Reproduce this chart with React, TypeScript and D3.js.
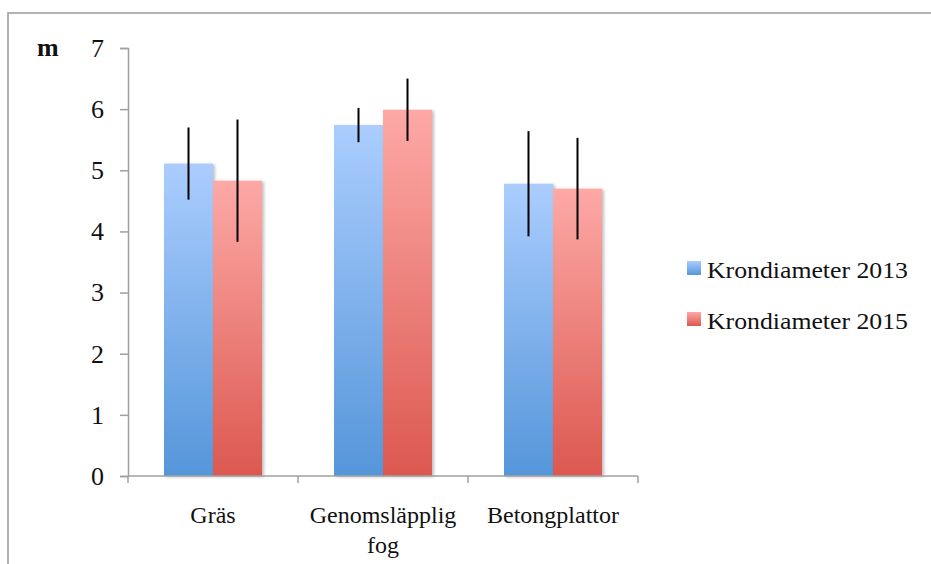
import { useRef, useEffect } from 'react';
import * as d3 from 'd3';

const categories = [['Gräs'], ['Genomsläpplig', 'fog'], ['Betongplattor']];
const seriesNames = ['Krondiameter 2013', 'Krondiameter 2015'];
const values2013 = [5.11, 5.74, 4.78];
const values2015 = [4.83, 5.99, 4.70];
const err2013 = [0.59, 0.28, 0.86];
const err2015 = [1.0, 0.51, 0.83];
const yTicks = [0, 1, 2, 3, 4, 5, 6, 7];

const FONT = 'Liberation Serif, Times New Roman, serif';

const App = () => {
  const ref = useRef<SVGSVGElement>(null);

  useEffect(() => {
    const svg = d3.select(ref.current);
    svg.selectAll('*').remove();
    const width = 931;
    const height = 564;
    const margin = { top: 48, left: 128 };
    const innerW = 510;
    const innerH = 428;

    const defs = svg.append('defs');
    const grads = [
      { id: 'gBlue', top: '#abcdfe', bottom: '#5596da' },
      { id: 'gRed', top: '#fda9a6', bottom: '#dc5850' },
    ];
    grads.forEach(gd => {
      const lg = defs.append('linearGradient').attr('id', gd.id)
        .attr('x1', 0).attr('y1', 0).attr('x2', 0).attr('y2', 1);
      lg.append('stop').attr('offset', '0%').attr('stop-color', gd.top);
      lg.append('stop').attr('offset', '100%').attr('stop-color', gd.bottom);
    });
    defs.append('filter').attr('id', 'shadow')
      .attr('x', '-10%').attr('y', '-10%').attr('width', '130%').attr('height', '130%')
      .append('feDropShadow')
      .attr('dx', 2).attr('dy', 1).attr('stdDeviation', 1.5)
      .attr('flood-color', '#000').attr('flood-opacity', 0.25);

    svg.append('rect')
      .attr('x', 8).attr('y', 13).attr('width', width).attr('height', height)
      .attr('fill', 'none').attr('stroke', '#999').attr('stroke-width', 1.5);

    const g = svg.append('g').attr('transform', `translate(${margin.left},${margin.top})`);

    const x = d3.scaleBand<number>()
      .domain(categories.map((_, i) => i))
      .range([0, innerW])
      .paddingInner(0)
      .paddingOuter(0);
    const xs = d3.scaleBand<number>()
      .domain([0, 1])
      .range([36, x.bandwidth() - 36]);
    const y = d3.scaleLinear().domain([0, 7]).range([innerH, 0]);

    const series = [
      { vals: values2013, errs: err2013, fill: 'url(#gBlue)' },
      { vals: values2015, errs: err2015, fill: 'url(#gRed)' },
    ];

    // bars
    series.forEach((s, si) => {
      g.append('g').selectAll('rect')
        .data(s.vals)
        .enter().append('rect')
        .attr('x', (_, i) => x(i)! + xs(si)!)
        .attr('y', d => y(d))
        .attr('width', xs.bandwidth())
        .attr('height', d => innerH - y(d))
        .attr('fill', s.fill)
        .attr('filter', 'url(#shadow)');
    });

    // error bars
    series.forEach((s, si) => {
      g.append('g').selectAll('line')
        .data(s.vals)
        .enter().append('line')
        .attr('x1', (_, i) => x(i)! + xs(si)! + xs.bandwidth() / 2)
        .attr('x2', (_, i) => x(i)! + xs(si)! + xs.bandwidth() / 2)
        .attr('y1', (d, i) => y(d + s.errs[i]))
        .attr('y2', (d, i) => y(d - s.errs[i]))
        .attr('stroke', '#000').attr('stroke-width', 2);
    });

    // y axis
    const yAxis = g.append('g')
      .call(d3.axisLeft(y).tickValues(yTicks).tickSize(8).tickPadding(16).tickFormat(d3.format('d')));
    yAxis.select('.domain').attr('stroke', '#a0a0a0').attr('stroke-width', 1.5);
    yAxis.selectAll('.tick line').attr('stroke', '#a0a0a0').attr('stroke-width', 1.5);
    yAxis.selectAll('.tick text')
      .attr('font-family', FONT).attr('font-size', 26).attr('fill', '#111');

    // x axis
    const xAxis = g.append('g').attr('transform', `translate(0,${innerH})`);
    xAxis.append('line').attr('x1', 0).attr('x2', innerW).attr('y1', 0).attr('y2', 0)
      .attr('stroke', '#a0a0a0').attr('stroke-width', 1.5);
    xAxis.selectAll('.xt')
      .data(d3.range(categories.length + 1))
      .enter().append('line')
      .attr('x1', i => i * x.step()).attr('x2', i => i * x.step())
      .attr('y1', 0).attr('y2', 7)
      .attr('stroke', '#a0a0a0').attr('stroke-width', 1.5);
    const labels = xAxis.selectAll('.xl')
      .data(categories)
      .enter().append('text')
      .attr('x', (_, i) => x(i)! + x.bandwidth() / 2)
      .attr('y', 47)
      .attr('text-anchor', 'middle')
      .attr('font-family', FONT).attr('font-size', 24).attr('fill', '#111');
    labels.selectAll('tspan')
      .data(d => d)
      .enter().append('tspan')
      .attr('x', function () { return (this.parentNode as SVGTextElement).getAttribute('x'); })
      .attr('dy', (_, j) => (j === 0 ? 0 : 30))
      .text(d => d);

    // unit label
    svg.append('text')
      .attr('x', 37).attr('y', 56)
      .attr('font-family', FONT).attr('font-size', 26).attr('font-weight', 'bold')
      .attr('fill', '#111').text('m');

    // legend
    const legend = svg.append('g').attr('transform', 'translate(687,261)');
    const legendFills = ['url(#gBlue)', 'url(#gRed)'];
    seriesNames.forEach((name, i) => {
      const lg = legend.append('g').attr('transform', `translate(0,${i * 51})`);
      lg.append('rect').attr('width', 14).attr('height', 14).attr('fill', legendFills[i]);
      lg.append('text').attr('x', 20).attr('y', 17)
        .attr('font-family', FONT).attr('font-size', 24).attr('fill', '#111')
        .attr('textLength', 201).attr('lengthAdjust', 'spacingAndGlyphs')
        .text(name);
    });
  }, []);

  return (
    <svg ref={ref} width={931} height={564}
      style={{ position: 'absolute', left: 0, top: 0, background: '#fff' }} />
  );
};

export default App;
